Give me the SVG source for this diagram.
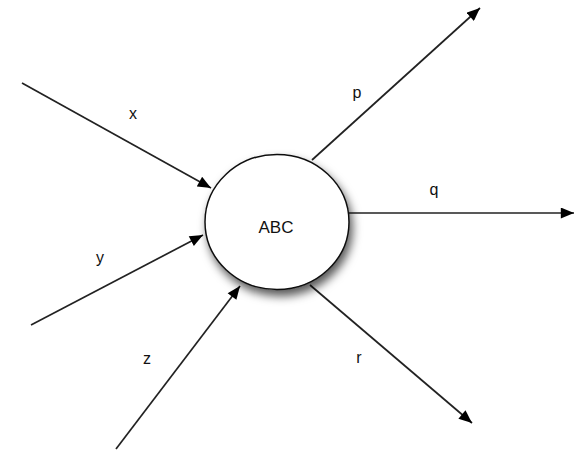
<svg xmlns="http://www.w3.org/2000/svg" width="574" height="453" viewBox="0 0 574 453">
<style>
.edge{stroke:#222;stroke-width:1.7;fill:none;marker-end:url(#ah)}
.lbl{font-family:"Liberation Sans",Arial,sans-serif;font-size:16px;fill:#111;text-anchor:middle}
</style>
<defs>
<marker id="ah" viewBox="0 0 12 10" refX="12" refY="5" markerWidth="14" markerHeight="11" markerUnits="userSpaceOnUse" orient="auto">
<path d="M0,0 L12,5 L0,10 Z" fill="#000"/>
</marker>
<filter id="sh" x="-30%" y="-30%" width="170%" height="170%">
<feDropShadow dx="3" dy="6" stdDeviation="5" flood-color="#000" flood-opacity="0.65"/>
</filter>
</defs>
<rect width="574" height="453" fill="#fff"/>
<g id="connectors">
<line class="edge" x1="22" y1="83" x2="211" y2="188"/>
<line class="edge" x1="31" y1="325" x2="203" y2="235"/>
<line class="edge" x1="116" y1="449" x2="240" y2="286"/>
<line class="edge" x1="312" y1="160" x2="480" y2="8"/>
<line class="edge" x1="349" y1="213" x2="574" y2="213"/>
<line class="edge" x1="310" y1="285" x2="472" y2="423"/>
<text class="lbl" x="133" y="119">x</text>
<text class="lbl" x="100" y="263">y</text>
<text class="lbl" x="147" y="364">z</text>
<text class="lbl" x="357" y="98">p</text>
<text class="lbl" x="434" y="195">q</text>
<text class="lbl" x="359" y="363">r</text>
</g>
<g id="ABC">
<ellipse cx="277" cy="222" rx="72" ry="67.5" fill="#fff" stroke="#111" stroke-width="1.5" filter="url(#sh)"/>
<text class="lbl" x="276" y="233" style="font-size:17px">ABC</text>
</g>
</svg>
